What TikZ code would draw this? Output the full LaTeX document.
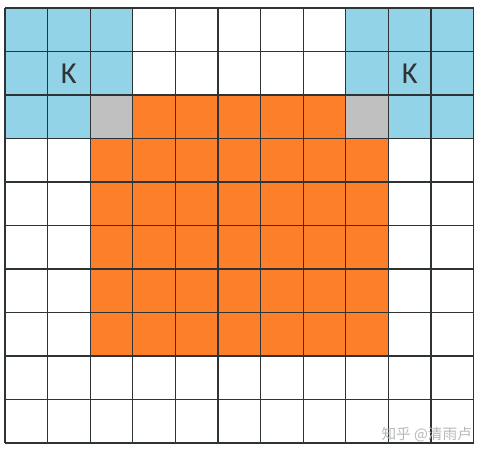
\documentclass[tikz,border=0pt]{standalone}
\usepackage{fontspec}
\setmainfont{Carlito}
\newfontfamily\cjkfont{Noto Sans CJK SC}
\usetikzlibrary{calc}

\begin{document}
\begin{tikzpicture}[x={(1.278cm,0)}, y={(0,-1.305cm)}]
    % Define colours
    \definecolor{lineColour}{HTML}{2E3336}
    \definecolor{kernelColour}{HTML}{93D3E8}
    \definecolor{outColour}{HTML}{FD7F2A}
    \definecolor{overlapColour}{HTML}{C0C0C0}

    % Define grid size
    \def\cols{11}
    \def\rows{10}

  % Fix the margins
  \useasboundingbox (-0.117,-0.184) rectangle (11.150,10.230);

  % Fill the two kernels
  \fill[kernelColour] (0,0) rectangle (3,3);
  \fill[kernelColour] (8,0) rectangle (11,3);

  % Fill the output region
  \fill[outColour] (2,2) rectangle (9,8);

  % Fill the overlapping cells
  \fill[overlapColour] (2,2) rectangle (3,3);
  \fill[overlapColour] (8,2) rectangle (9,3);

  % Draw the grid
  \foreach \x in {0,...,\cols}
    \draw[lineColour, line width=1.1pt] (\x,0) -- (\x,\rows);
  \foreach \y in {0,...,\rows}
    \draw[lineColour, line width=1.1pt] (0,\y) -- (\cols,\y);

  % Label the kernels
  \node[font=\fontsize{26}{28}\selectfont, text=lineColour] (kLeft) at (1.5,1.5) {K};
  \node[font=\fontsize{26}{28}\selectfont, text=lineColour] (kRight) at (9.5,1.5) {K};

  % Watermark
  \node[font=\cjkfont\fontsize{12.5}{14}\selectfont, text=black!28] (mark) at (9.9,9.8) {知乎 @清雨卢};

\end{tikzpicture}
\end{document}
